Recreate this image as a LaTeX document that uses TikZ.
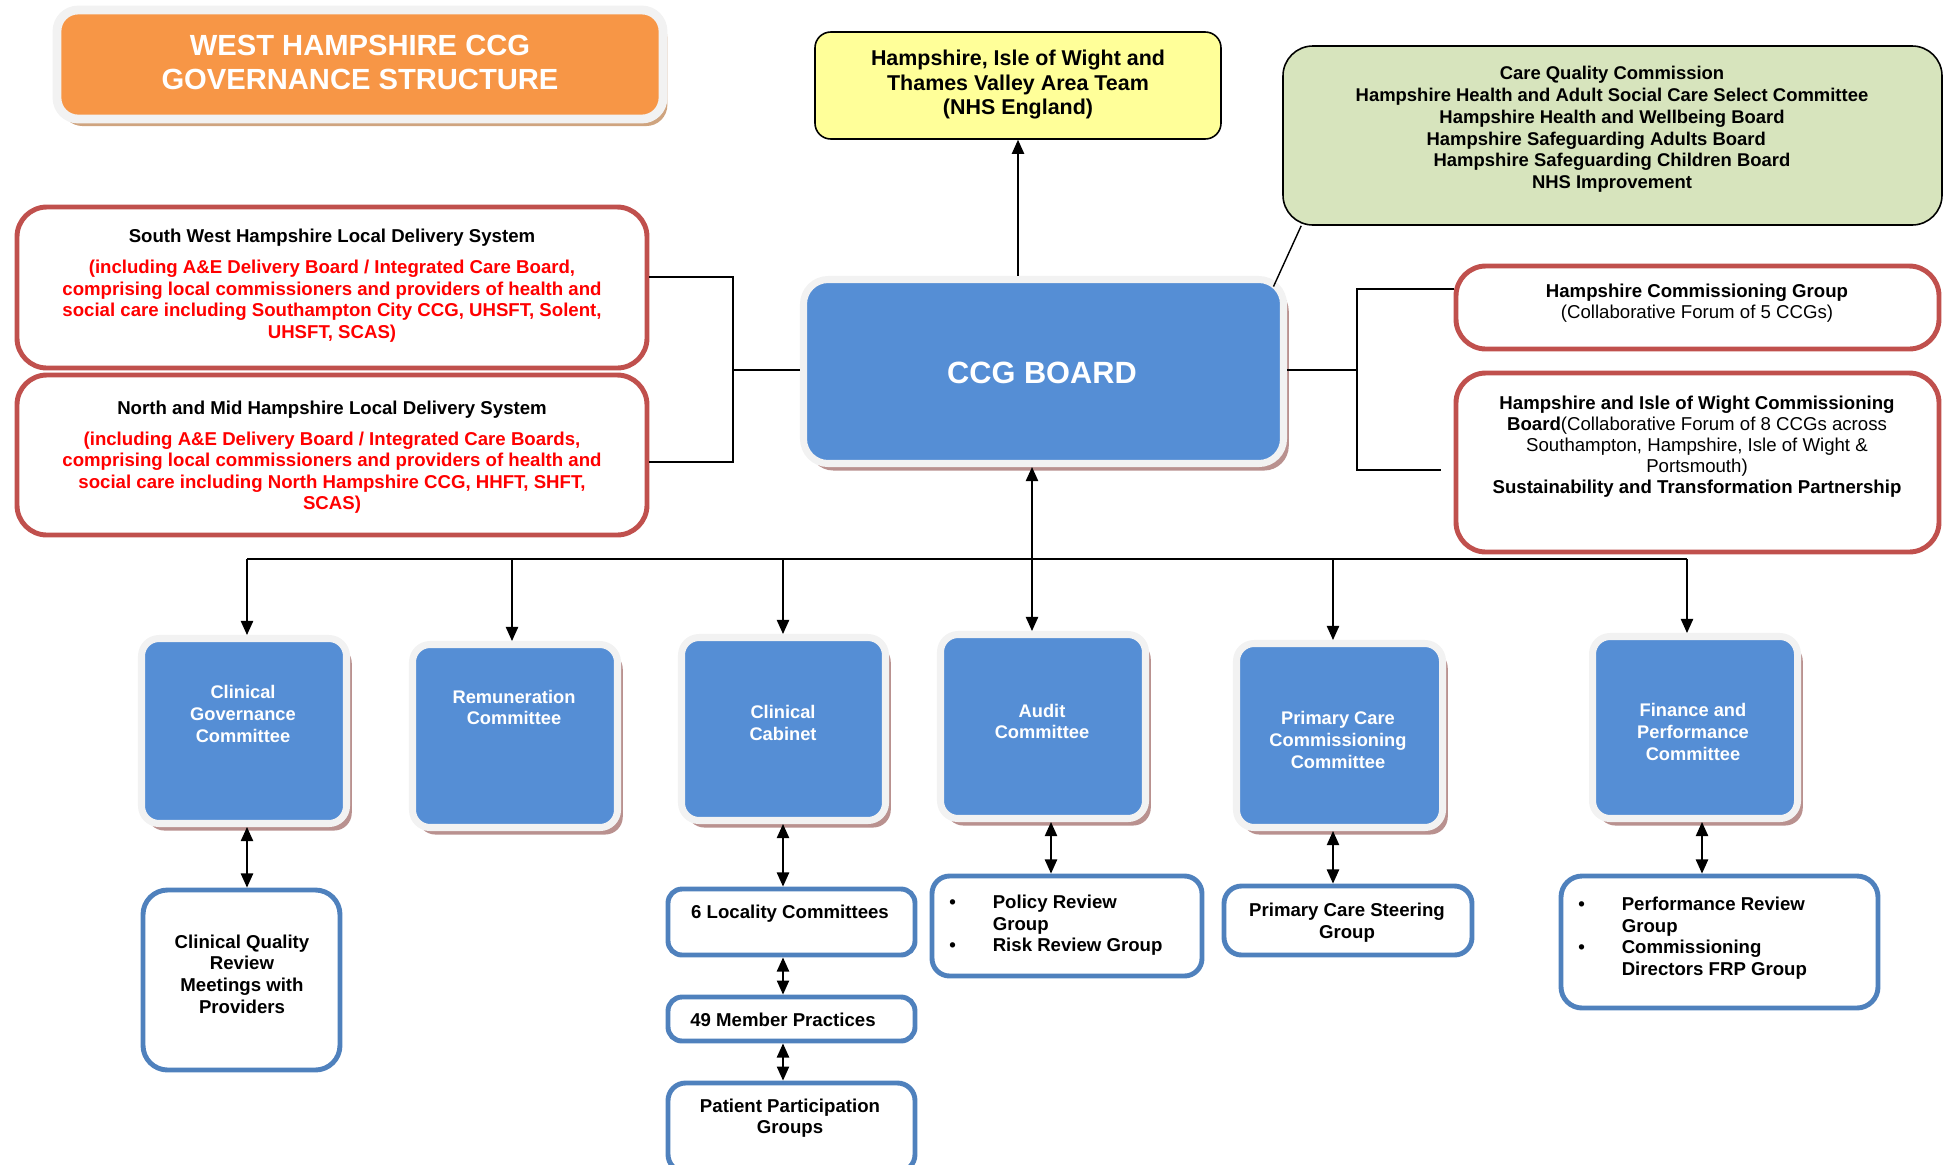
\documentclass[tikz,border=0pt]{standalone}
\usepackage{tikz}
\usepackage{fontspec}
\setmainfont{Liberation Sans}
\usetikzlibrary{arrows.meta,%
  	fit,%
  	shadows}
\definecolor{boardblue}{HTML}{558ED5}
\definecolor{ringgrey}{HTML}{F2F2F2}
\definecolor{shadowbrown}{HTML}{B9918F}
\definecolor{titleorange}{HTML}{F79646}
\definecolor{titleshadow}{HTML}{CFA47F}
\definecolor{nhsyellow}{HTML}{FFFF99}
\definecolor{regsgreen}{HTML}{D7E4BD}
\definecolor{ldsred}{HTML}{C0504D}
\definecolor{subblue}{HTML}{4F81BD}
\definecolor{ldstext}{HTML}{FF0000}

\begin{document}
\begin{tikzpicture}[x=0.02cm,y=-0.02cm,>={Triangle[length=8pt,width=7pt]},
	committee_node/.style={rounded corners=10pt,fill=boardblue,draw=ringgrey,line width=4pt,inner sep=0pt,
		drop shadow={shadow xshift=3pt,shadow yshift=-4pt,fill=shadowbrown,opacity=1}},
	com_text/.style={text=white,font=\fontsize{10.4}{12.3}\selectfont\bfseries,align=center,inner sep=0pt},
	lds_node/.style={rounded corners=17pt,fill=white,draw=ldsred,line width=2.8pt,inner sep=0pt},
	lds_text/.style={font=\fontsize{10.6}{12.2}\selectfont\bfseries,align=center,inner sep=0pt},
	sub_node/.style={rounded corners=10pt,fill=white,draw=subblue,line width=2.8pt,inner sep=0pt},
	sub_text/.style={font=\fontsize{10.6}{12.3}\selectfont\bfseries,align=center,inner sep=0pt},
	link/.style={line width=0.8pt}]

	\useasboundingbox (0,0) rectangle (1948,1164);

	% top row
	\node[fit={(57,10) (663,119)},rounded corners=12pt,fill=titleorange,draw=ringgrey,line width=5pt,inner sep=0pt,
		drop shadow={shadow xshift=2.5pt,shadow yshift=-4pt,fill=titleshadow,opacity=1}] (title) {};
	\node[text=white,font=\fontsize{16.6}{19.7}\selectfont\bfseries,align=center] (title_t) at (360,62.5) {WEST HAMPSHIRE CCG\\GOVERNANCE STRUCTURE};

	\node[fit={(815,32) (1221,139)},rounded corners=9pt,fill=nhsyellow,draw=black,line width=0.9pt,inner sep=0pt] (nhse) {};
	\node[font=\fontsize{12.2}{14}\selectfont\bfseries,align=center] (nhse_t) at (1018,84.5) {Hampshire, Isle of Wight and\\Thames Valley Area Team\\(NHS England)};

	\node[fit={(1283,46) (1942,225)},rounded corners=17pt,fill=regsgreen,draw=black,line width=0.9pt,inner sep=0pt] (regs) {};
	\node[font=\fontsize{10.5}{12.4}\selectfont\bfseries,align=center] (regs_t) at (1612,129.5) {Care Quality Commission\\Hampshire Health and Adult Social Care Select Committee\\Hampshire Health and Wellbeing Board\\Hampshire Safeguarding Adults Board\rule{18pt}{0pt}\\Hampshire Safeguarding Children Board\\NHS Improvement};

	% board and the local systems
	\node[committee_node,rounded corners=14pt,fit={(803.5,279.5) (1283.5,463.5)}] (board) {};
	\node[text=white,font=\fontsize{17.5}{21}\selectfont\bfseries] (board_t) at (1042,373) {CCG BOARD};

	\node[lds_node,fit={(17,207) (647,368)}] (swh) {};
	\node[lds_text] (swh_t) at (332,285.5) {South West Hampshire Local Delivery System\\[5.5pt]
		\textcolor{ldstext}{(including A\&E Delivery Board / Integrated Care Board,}\\
		\textcolor{ldstext}{comprising local commissioners and providers of health and}\\
		\textcolor{ldstext}{social care including Southampton City CCG, UHSFT, Solent,}\\
		\textcolor{ldstext}{UHSFT, SCAS)}};
	\node[lds_node,fit={(17,375) (647,535)}] (nmh) {};
	\node[lds_text] (nmh_t) at (332,457) {North and Mid Hampshire Local Delivery System\\[5.5pt]
		\textcolor{ldstext}{(including A\&E Delivery Board / Integrated Care Boards,}\\
		\textcolor{ldstext}{comprising local commissioners and providers of health and}\\
		\textcolor{ldstext}{social care including North Hampshire CCG, HHFT, SHFT,}\\
		\textcolor{ldstext}{SCAS)}};

	\node[lds_node,fit={(1456,266) (1939,349)}] (hcg) {};
	\node[font=\fontsize{10.6}{11.9}\selectfont,align=center,inner sep=0pt] (hcg_t) at (1697,303.5) {\textbf{Hampshire Commissioning Group}\\(Collaborative Forum of 5 CCGs)};
	\node[lds_node,fit={(1456,373) (1939,552)}] (hiow) {};
	\node[font=\fontsize{10.6}{12}\selectfont,align=center,inner sep=0pt] (hiow_t) at (1697,446.5) {\textbf{Hampshire and Isle of Wight Commissioning}\\
		\textbf{Board}(Collaborative Forum of 8 CCGs across\\Southampton, Hampshire, Isle of Wight \&\\Portsmouth)\\
		\textbf{Sustainability and Transformation Partnership}};

	\coordinate (swh_join) at (733,277);
	\coordinate (nmh_join) at (733,462);
	\coordinate (lds_mid) at (733,370);
	\draw[link] (swh.east |- swh_join) -- (swh_join) -- (nmh_join) -- (nmh.east |- nmh_join);
	\draw[link] (lds_mid) -- (board.west |- lds_mid);

	\coordinate (hcg_join) at (1357,289);
	\coordinate (hiow_join) at (1357,470);
	\coordinate (rt_mid) at (1357,370);
	\coordinate (hiow_end) at (1441,470);
	\draw[link] (hcg.west |- hcg_join) -- (hcg_join) -- (hiow_join) -- (hiow_end);
	\draw[link] (board.east |- rt_mid) -- (rt_mid);

	\draw[link,->] (nhse.south |- board.north) -- (nhse.south);
	\draw[link] ([xshift=-7.7pt,yshift=-6pt]board.north east) -- ([xshift=10.8pt]regs.south west);

	% committees
	\node[committee_node,fit={(141.5,638.5) (346.5,823.5)}] (cg) {};
	\node[com_text] (cg_t) at (243,714) {Clinical\\Governance\\Committee};
	\node[committee_node,fit={(412.5,644.5) (617.5,827.5)}] (rem) {};
	\node[com_text] (rem_t) at (514,707.5) {Remuneration\\Committee};
	\node[committee_node,fit={(681.5,637.5) (885.5,820.5)}] (cab) {};
	\node[com_text] (cab_t) at (783,723) {Clinical\\Cabinet};
	\node[committee_node,fit={(940.5,634.5) (1145.5,818.5)}] (aud) {};
	\node[com_text] (aud_t) at (1042,721.5) {Audit\\Committee};
	\node[committee_node,fit={(1236.5,643.5) (1442.5,827.5)}] (pcc) {};
	\node[com_text] (pcc_t) at (1338,740) {Primary Care\\Commissioning\\Committee};
	\node[committee_node,fit={(1592.5,636.5) (1797.5,818.5)}] (fin) {};
	\node[com_text] (fin_t) at (1693,732) {Finance and\\Performance\\Committee};

	\coordinate (bus_w) at (247,559);
	\coordinate (bus_e) at (1687,559);
	\draw[line width=1.4pt] (bus_w) -- (bus_e);
	\foreach \x/\c in {247/cg,512/rem,783/cab,1333/pcc,1687/fin}{
		\coordinate (drop_\c) at (\x,559);
		\draw[link,->] (drop_\c) -- (drop_\c |- \c.north);
	}
	\coordinate (bus_aud) at (1032,559);
	\draw[link,<->] (bus_aud |- board.south) -- (bus_aud |- aud.north);

	% groups below
	\node[sub_node,rounded corners=14pt,fit={(143,890) (340,1070)}] (cqr) {};
	\node[sub_text] (cqr_t) at (242,974) {Clinical Quality\\Review\\Meetings with\\Providers};
	\node[sub_node,rounded corners=8pt,fit={(668,889) (915,955)}] (loc) {};
	\node[sub_text] (loc_t) at (790,914) {6 Locality Committees};
	\node[sub_node,rounded corners=8pt,fit={(668,997) (915,1041)}] (mem) {};
	\node[sub_text] (mem_t) at (783,1020) {49 Member Practices};
	\node[sub_node,fit={(668,1083) (915,1172)}] (ppg) {};
	\node[sub_text] (ppg_t) at (790,1118) {Patient Participation\\Groups};
	\node[sub_node,fit={(932,876) (1202,976)}] (pol) {};
	\node[sub_text,anchor=west] (pol_t) at (949,926) {\begin{tabular}{@{}l@{\hspace{21pt}}l@{}}\textbullet & Policy Review\\ & Group\\ \textbullet & Risk Review Group\end{tabular}};
	\node[sub_node,fit={(1224,886) (1472,955)}] (psg) {};
	\node[sub_text] (psg_t) at (1347,922.5) {Primary Care Steering\\Group};
	\node[sub_node,rounded corners=12pt,fit={(1561,876) (1878,1008)}] (prf) {};
	\node[sub_text,anchor=west] (prf_t) at (1578,938.5) {\begin{tabular}{@{}l@{\hspace{21pt}}l@{}}\textbullet & Performance Review\\ & Group\\ \textbullet & Commissioning\\ & Directors FRP Group\end{tabular}};

	\draw[link,<->] (drop_cg |- cg.south) -- (drop_cg |- cqr.north);
	\draw[link,<->] (drop_cab |- cab.south) -- (drop_cab |- loc.north);
	\draw[link,<->] (drop_cab |- loc.south) -- (drop_cab |- mem.north);
	\draw[link,<->] (drop_cab |- mem.south) -- (drop_cab |- ppg.north);
	\coordinate (aud_sub) at (1051,850);
	\draw[link,<->] (aud_sub |- aud.south) -- (aud_sub |- pol.north);
	\draw[link,<->] (drop_pcc |- pcc.south) -- (drop_pcc |- psg.north);
	\coordinate (fin_sub) at (1702,850);
	\draw[link,<->] (fin_sub |- fin.south) -- (fin_sub |- prf.north);

\end{tikzpicture}
\end{document}
